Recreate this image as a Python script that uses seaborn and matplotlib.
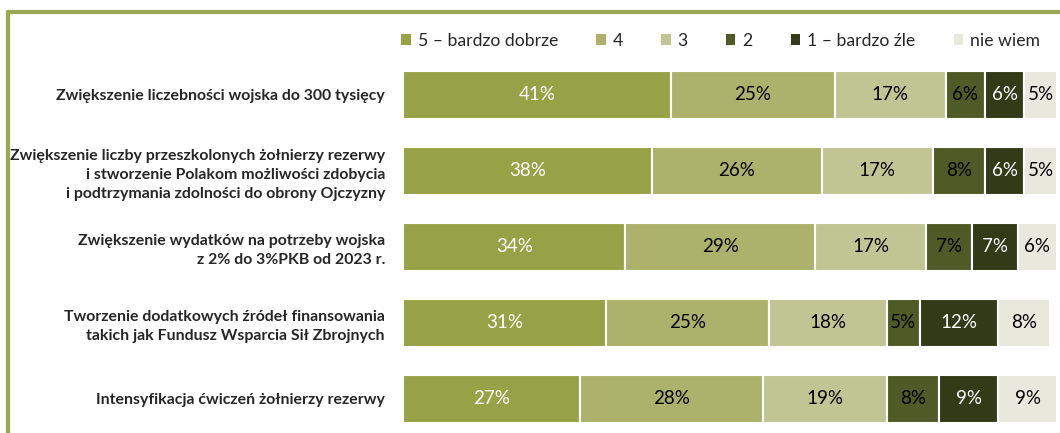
import numpy as np
import pandas as pd
import seaborn as sns
import matplotlib.pyplot as plt
from matplotlib.lines import Line2D
from matplotlib.patches import Patch

# data
statements = [
    "Zwiększenie liczebności wojska do 300 tysięcy",
    "Zwiększenie liczby przeszkolonych żołnierzy rezerwy\ni stworzenie Polakom możliwości zdobycia\ni podtrzymania zdolności do obrony Ojczyzny",
    "Zwiększenie wydatków na potrzeby wojska\nz 2% do 3%PKB od 2023 r.",
    "Tworzenie dodatkowych źródeł finansowania\ntakich jak Fundusz Wsparcia Sił Zbrojnych",
    "Intensyfikacja ćwiczeń żołnierzy rezerwy",
]
answers = ["5 – bardzo dobrze", "4", "3", "2", "1 – bardzo źle", "nie wiem"]
very_good = [41, 38, 34, 31, 27]
good = [25, 26, 29, 25, 28]
neutral = [17, 17, 17, 18, 19]
bad = [6, 8, 7, 5, 8]
very_bad = [6, 6, 7, 12, 9]
dont_know = [5, 5, 6, 8, 9]

colors = ["#97a146", "#acb26b", "#c1c594", "#4f5a26", "#333a17", "#e8e8dc"]
text_colors = ["white", "black", "black", "black", "white", "black"]

df = pd.DataFrame({"5": very_good, "4": good, "3": neutral, "2": bad,
                   "1": very_bad, "nw": dont_know}, index=statements)

sns.set_theme(style="white")
plt.rcParams['font.family'] = ['Lato', 'DejaVu Sans']

fig = plt.figure(figsize=(10.6, 4.33), dpi=100)
ax = fig.add_axes([403 / 1060, 0.0, (1057 - 403) / 1060, (433 - 57) / 433])

y = np.arange(len(statements))
left = np.zeros(len(statements))
for i, col in enumerate(df.columns):
    vals = df[col].values
    ax.barh(y, vals, left=left, height=0.63, color=colors[i],
            edgecolor="white", linewidth=1.5, label=answers[i])
    for j, v in enumerate(vals):
        ax.text(left[j] + v / 2, y[j], f"{v}%", ha="center", va="center",
                fontsize=13.5, color=text_colors[i])
    left += vals

ax.set_xlim(0, 100)
ax.set_ylim(4.45, -0.5)
ax.set_yticks(y)
ax.set_yticklabels(statements, fontsize=11.4, fontweight="bold", ha="right",
                   linespacing=1.45)
ax.tick_params(axis="y", length=0, pad=13)
ax.set_xticks([])
for s in ax.spines.values():
    s.set_visible(False)

handles = [Patch(facecolor=c, edgecolor="none") for c in colors]
fig.legend(handles, answers, loc="center left", bbox_to_anchor=(401 / 1060, 1 - 41 / 433),
           ncol=6, frameon=False, fontsize=12.7, handlelength=0.55, handleheight=0.55,
           handletextpad=0.4, columnspacing=2.15, borderpad=0, borderaxespad=0)

# olive frame at top and left
fig.add_artist(Line2D([8 / 1060, 1.0], [1 - 12 / 433, 1 - 12 / 433], color="#9aa852", lw=3,
                      transform=fig.transFigure))
fig.add_artist(Line2D([8 / 1060, 8 / 1060], [0, 1 - 12 / 433], color="#9aa852", lw=3,
                      transform=fig.transFigure))

fig.savefig("out.png", dpi=100)
